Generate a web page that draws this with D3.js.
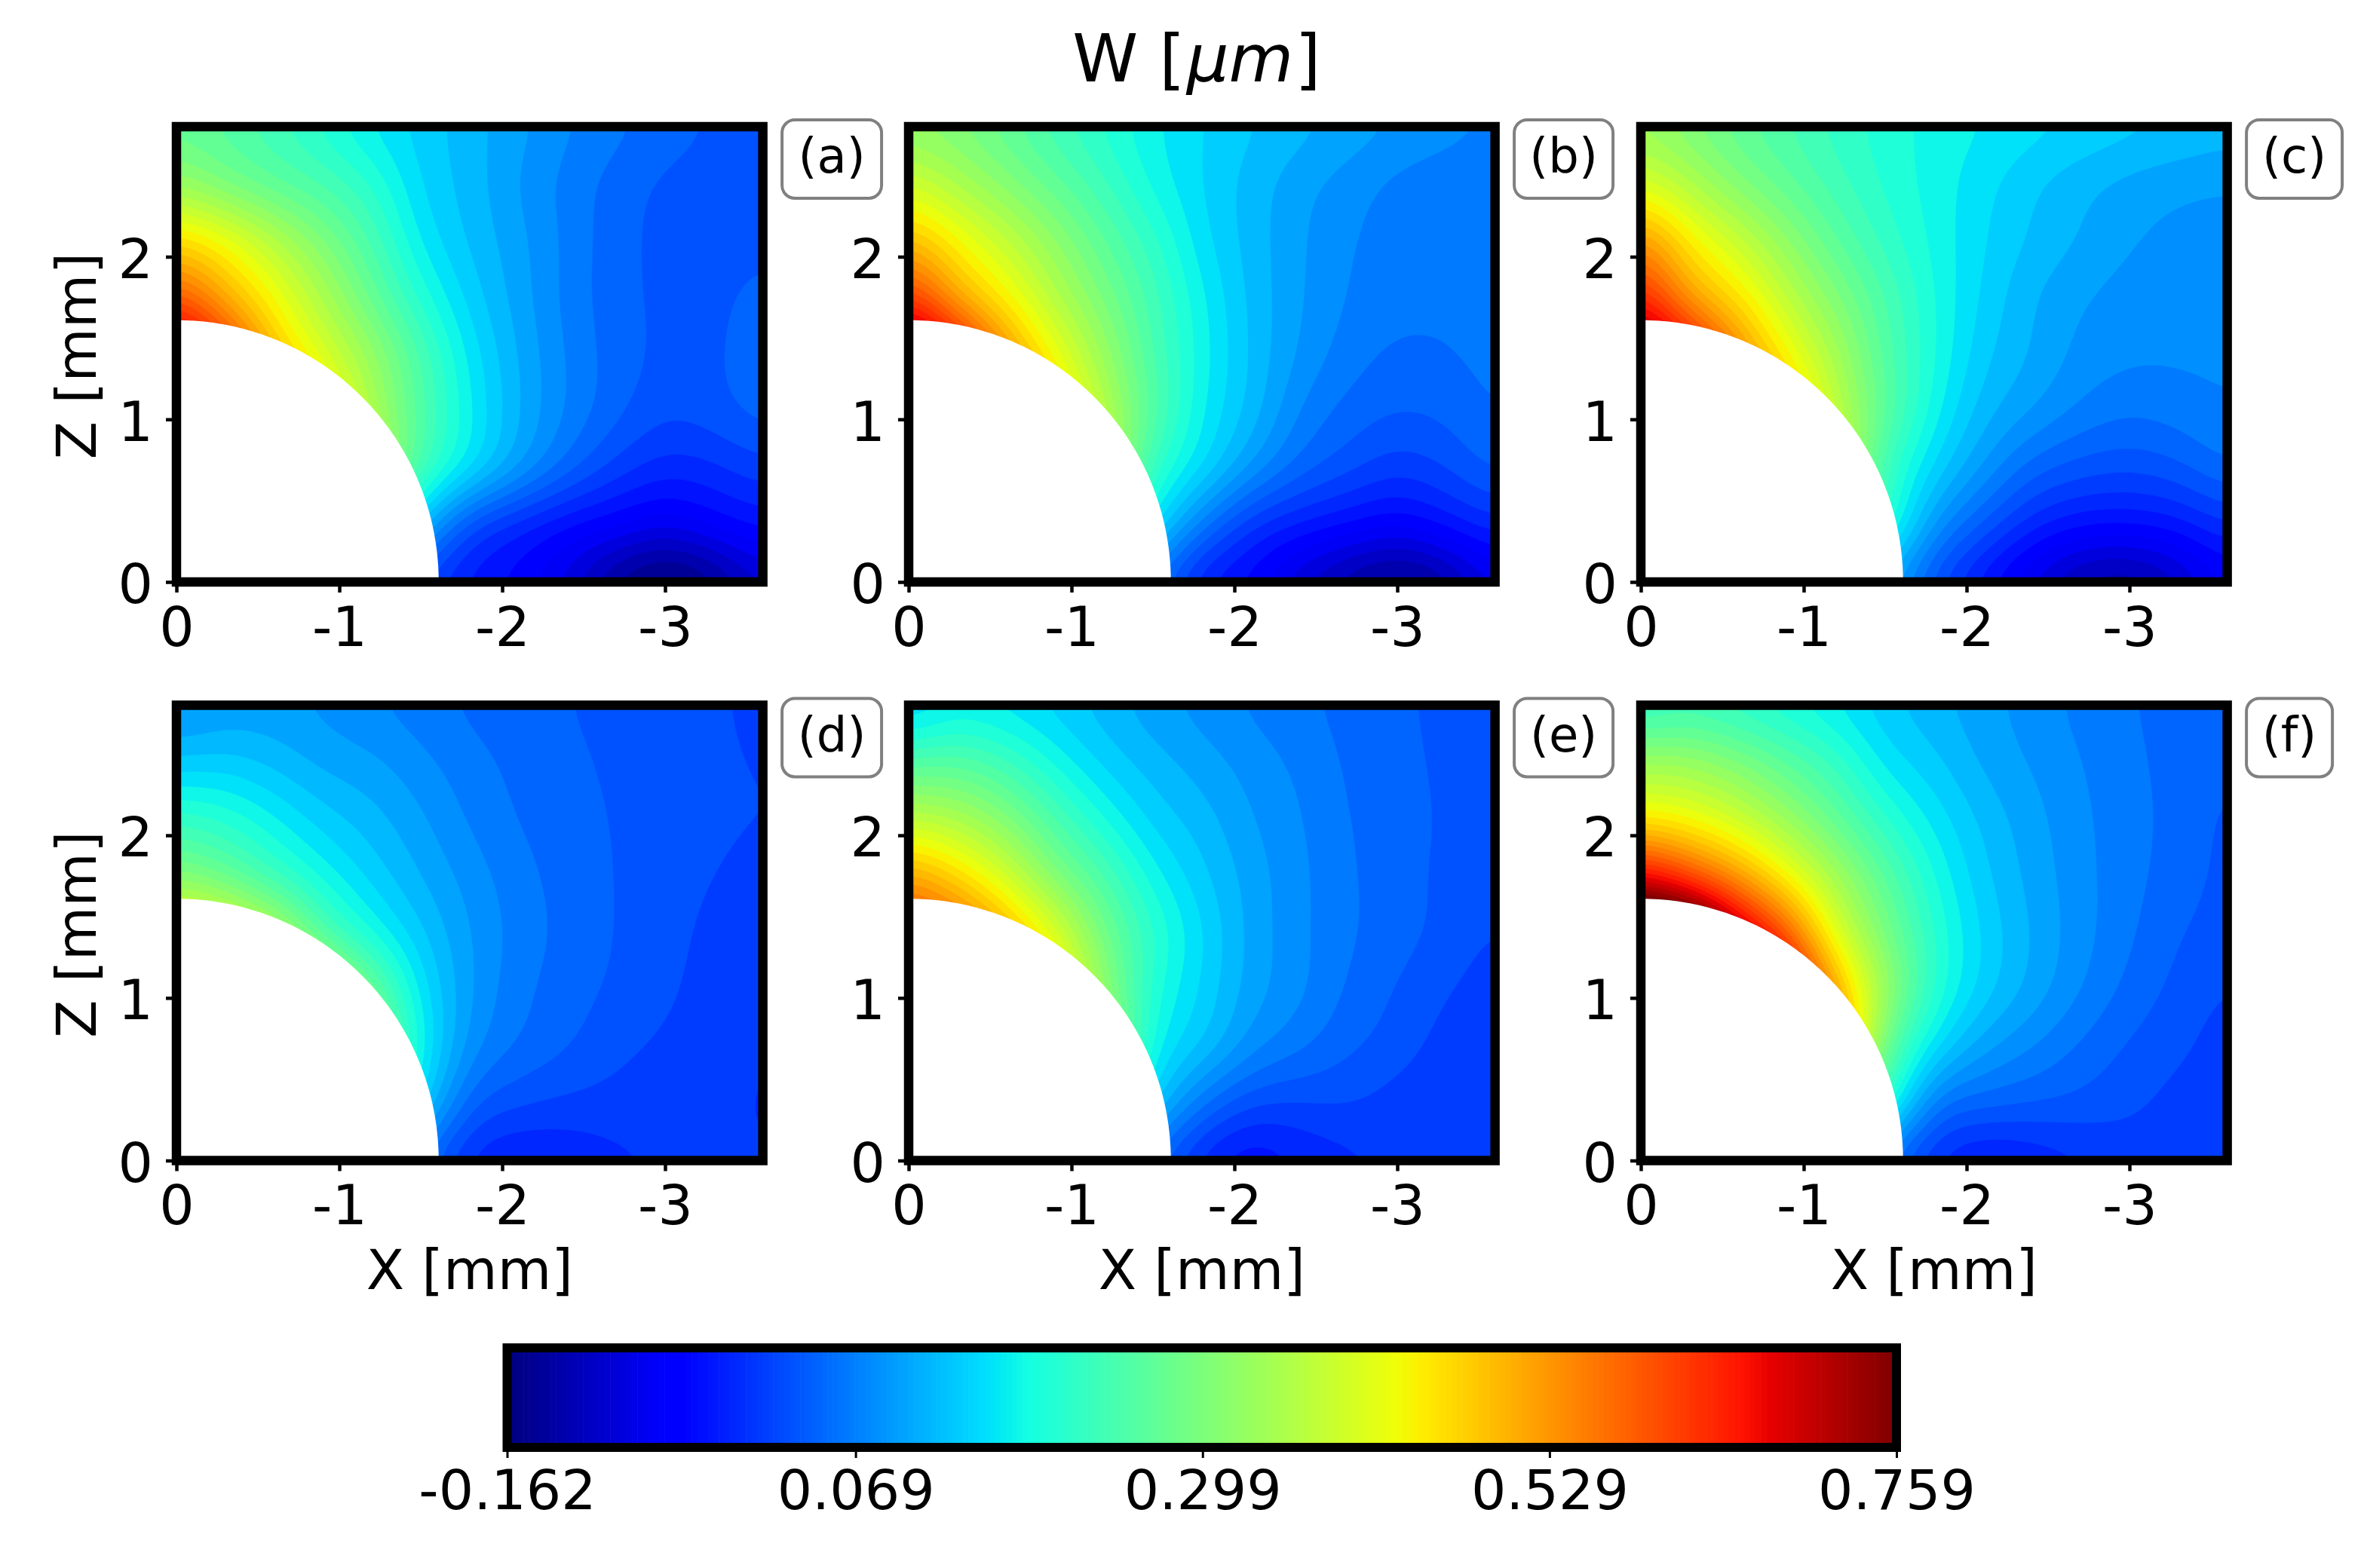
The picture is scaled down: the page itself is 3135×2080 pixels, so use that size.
<!DOCTYPE html>
<html><head><meta charset="utf-8">
<script src="https://cdn.jsdelivr.net/npm/d3@7"></script>
<style>html,body{margin:0;padding:0;background:#fff}svg{display:block}text{font-family:"DejaVu Sans";fill:#000}</style>
</head><body><svg id="c" width="3135" height="2080"></svg>
<script>
// grid: columns X = 0 .. -3.6 mm, rows Z = 2.8 .. 0 mm (W in um)
const xGrid=[0,0.3,0.6,0.9,1.2,1.5,1.8,2.1,2.4,2.7,3.0,3.3,3.6];
const zGrid=[2.8,2.45,2.1,1.75,1.4,1.05,0.7,0.35,0];
const panelA=[
[.27,.255,.23,.2,.166,.144,.122,.102,.08,.0645,.05,.039,.035],
[.33,.295,.265,.24,.205,.15,.125,.095,.071,.051,.037,.033,.033],
[.46,.42,.36,.30,.24,.167,.13,.102,.0725,.048,.035,.033,.035],
[.59,.505,.425,.35,.275,.2,.144,.106,.071,.048,.036,.036,.047],
[.74,.64,.49,.40,.325,.24,.163,.113,.075,.05,.036,.038,.049],
[.8,.75,.6,.47,.35,.25,.172,.115,.075,.046,.026,.033,.049],
[.85,.8,.68,.55,.38,.235,.158,.098,.05,.015,-.006,0,.015],
[.9,.8,.6,.4,.25,.124,.028,-.007,-.032,-.048,-.065,-.045,-.026],
[.5,.4,.3,.2,.1,.018,-.022,-.042,-.08,-.135,-.165,-.14,-.09]];
const panelB=[
[.315,.298,.268,.233,.203,.173,.152,.135,.121,.108,.095,.085,.076],
[.39,.35,.308,.268,.228,.183,.151,.125,.103,.087,.072,.066,.064],
[.49,.43,.375,.318,.263,.213,.158,.125,.099,.079,.07,.064,.062],
[.62,.51,.435,.36,.295,.233,.173,.128,.098,.076,.066,.061,.058],
[.78,.68,.53,.42,.33,.243,.178,.13,.093,.068,.055,.059,.063],
[.85,.76,.62,.48,.36,.253,.171,.126,.076,.052,.041,.045,.06],
[.9,.8,.68,.55,.38,.218,.153,.093,.05,.028,.0105,.023,.045],
[.9,.8,.6,.42,.27,.158,.068,.008,-.017,-.034,-.048,-.027,-.002],
[.5,.4,.3,.2,.12,.058,-.017,-.042,-.09,-.125,-.148,-.125,-.07]];
const panelC=[
[.33,.3,.268,.243,.218,.198,.181,.17,.159,.149,.14,.132,.124],
[.40,.355,.305,.268,.233,.203,.18,.158,.136,.12,.108,.101,.098],
[.53,.44,.38,.318,.263,.218,.183,.153,.13,.113,.098,.09,.086],
[.64,.52,.45,.37,.303,.243,.188,.148,.116,.098,.088,.083,.082],
[.78,.68,.54,.43,.343,.253,.19,.138,.113,.09,.081,.08,.08],
[.85,.76,.62,.5,.37,.263,.178,.123,.096,.073,.062,.068,.076],
[.9,.8,.68,.55,.4,.228,.148,.093,.05,.032,.026,.036,.058],
[.9,.8,.6,.42,.3,.208,.093,.038,-.007,-.029,-.032,-.022,.003],
[.5,.4,.3,.22,.15,.108,.028,-.027,-.075,-.118,-.128,-.098,-.05]];
const panelD=[
[.087,.099,.1,.091,.079,.067,.055,.048,.041,.035,.031,.024,.019],
[.137,.14,.127,.109,.1,.083,.066,.054,.045,.037,.032,.025,.021],
[.217,.202,.172,.142,.122,.099,.075,.058,.0484,.039,.033,.025,.022],
[.307,.277,.227,.182,.145,.114,.088,.066,.051,.04,.03,.022,.018],
[.45,.42,.36,.252,.187,.136,.096,.07,.053,.04,.028,.018,.014],
[.52,.48,.44,.38,.277,.162,.098,.065,.049,.037,.025,.016,.011],
[.52,.47,.44,.4,.32,.177,.087,.057,.042,.027,.019,.014,.005],
[.5,.47,.42,.37,.27,.147,.047,.026,.018,.015,.012,.01,.001],
[.3,.3,.3,.27,.17,.057,-.003,-.018,-.012,-.001,.006,.009,.005]];
const panelE=[
[.14,.168,.158,.143,.123,.103,.088,.074,.063,.053,.044,.036,.031],
[.25,.255,.228,.183,.146,.123,.105,.088,.073,.056,.046,.037,.032],
[.37,.35,.305,.243,.188,.145,.123,.097,.079,.059,.048,.038,.032],
[.51,.46,.39,.305,.243,.178,.138,.106,.082,.062,.047,.037,.03],
[.62,.58,.5,.40,.288,.208,.153,.108,.082,.062,.048,.035,.021],
[.68,.64,.58,.46,.318,.198,.148,.105,.082,.056,.039,.024,.012],
[.7,.66,.6,.5,.35,.178,.133,.085,.063,.044,.032,.014,.006],
[.7,.6,.5,.4,.25,.138,.063,.025,.021,.023,.013,.005,.003],
[.4,.35,.3,.22,.12,.048,-.007,-.032,-.014,-.002,.008,.008,.006]];
const panelF=[
[.21,.223,.208,.188,.166,.138,.12,.103,.087,.072,.06,.053,.048],
[.335,.33,.3,.26,.218,.163,.138,.111,.094,.078,.063,.053,.044],
[.445,.425,.385,.33,.27,.208,.163,.128,.103,.082,.065,.053,.036],
[.67,.6,.52,.43,.34,.26,.188,.138,.108,.084,.065,.05,.035],
[.9,.88,.72,.58,.405,.295,.205,.148,.113,.085,.062,.042,.032],
[1,1,.9,.72,.505,.33,.205,.143,.108,.078,.053,.035,.021],
[1,.95,.85,.7,.55,.28,.158,.103,.078,.056,.038,.026,.014],
[.9,.85,.7,.5,.35,.208,.068,.048,.041,.035,.026,.016,.012],
[.5,.5,.4,.3,.2,.058,0,-.022,-.014,0,.012,.014,.012]];
const panels=[panelA,panelB,panelC,panelD,panelE,panelF];
const panelLabels=["(a)","(b)","(c)","(d)","(e)","(f)"];
const vMin=-0.162, vMax=0.759, levelCount=50, cbarSteps=256;
const xTicks=[0,-1,-2,-3], zTicks=[0,1,2];
const cbarTicks=[-0.162,0.069,0.299,0.529,0.759];

const rChan=d3.scaleLinear().domain([0,.35,.66,.89,1]).range([0,0,1,1,.5]);
const gChan=d3.scaleLinear().domain([0,.125,.375,.64,.91,1]).range([0,0,1,1,0,0]);
const bChan=d3.scaleLinear().domain([0,.11,.34,.65,1]).range([.5,1,1,0,0]);
const jet=t=>d3.rgb(255*rChan(t),255*gChan(t),255*bChan(t)).formatRgb();
const levels=d3.range(levelCount+1).map(i=>vMin+(vMax-vMin)*i/levelCount);
const bandColor=i=>jet(i/(levelCount-1));

function refine(rows,k){ // smooth display resampling of the read grid
  const cr=(a,b,c,d,t)=>0.5*(2*b+(c-a)*t+(2*a-5*b+4*c-d)*t*t+(3*b-a-3*c+d)*t*t*t);
  const h=rows.length,w=rows[0].length,W=(w-1)*k+1,H=(h-1)*k+1,out=new Float64Array(W*H);
  const at=(j,i)=>rows[Math.max(0,Math.min(h-1,j))][Math.max(0,Math.min(w-1,i))];
  for(let y=0;y<H;y++){const j=Math.min(h-2,Math.floor(y/k)),ty=y/k-j;
    for(let x=0;x<W;x++){const i=Math.min(w-2,Math.floor(x/k)),tx=x/k-i;
      const col=[-1,0,1,2].map(d=>cr(at(j+d,i-1),at(j+d,i),at(j+d,i+1),at(j+d,i+2),tx));
      out[y*W+x]=cr(col[0],col[1],col[2],col[3],ty);}}
  d3.blur2({data:out,width:W},3);
  return {values:Array.from(out),W,H};
}

const svg=d3.select("#c");
const FS=73, LFS=73.5, axW=777.6, axH=604, holeR=1.61;
const lefts=[234,1205,2176], tops=[168,935.5];
const boxes=[132,131,127,132,131,114];

panels.forEach((rows,idx)=>{
  const col=idx%3,row=idx<3?0:1,L=lefts[col],T=tops[row];
  const sx=d3.scaleLinear().domain([0,-3.6]).range([L,L+axW]);
  const sy=d3.scaleLinear().domain([2.8,0]).range([T,T+axH]);
  const g=svg.append("g");
  const cid="clip"+idx;
  svg.append("clipPath").attr("id",cid).append("rect").attr("x",L).attr("y",T).attr("width",axW).attr("height",axH);
  const plot=g.append("g").attr("clip-path",`url(#${cid})`);
  plot.append("rect").attr("x",L).attr("y",T).attr("width",axW).attr("height",axH).attr("fill",bandColor(0));
  const k=10,{values,W,H}=refine(rows,k);
  const proj=d3.geoTransform({point(x,y){
    this.stream.point(sx(-(x-.5)/(W-1)*xGrid[xGrid.length-1]), sy(zGrid[0]-(y-.5)/(H-1)*zGrid[0]));}});
  const path=d3.geoPath(proj);
  const cs=d3.contours().size([W,H]).thresholds(levels.slice(1,-1))(values);
  plot.selectAll("path.band").data(cs).join("path").attr("class","band")
    .attr("d",path).attr("fill",(d,i)=>bandColor(i+1)).attr("stroke",(d,i)=>bandColor(i+1)).attr("stroke-width",.4);
  const hole=d3.range(0,91,1).map(a=>[-holeR*Math.cos(a*Math.PI/180),holeR*Math.sin(a*Math.PI/180)]);
  hole.push([0,0]);
  plot.append("path").attr("d",d3.line().x(d=>sx(d[0])).y(d=>sy(d[1]))(hole)+"Z").attr("fill","#fff");
  const ax=d3.axisBottom(sx).tickValues(xTicks).tickFormat(d=>String(d)).tickSize(14).tickPadding(19);
  const ay=d3.axisLeft(sy).tickValues(zTicks).tickFormat(d=>String(d)).tickSize(14).tickPadding(17);
  const gx=g.append("g").attr("transform",`translate(0,${T+axH})`).call(ax);
  const gy=g.append("g").attr("transform",`translate(${L},0)`).call(ay);
  [gx,gy].forEach(a=>{a.select(".domain").remove();
    a.selectAll("line").attr("stroke","#000").attr("stroke-width",4.5);
    a.selectAll("text").attr("font-size",FS).attr("font-family","DejaVu Sans").attr("fill","#000");});
  gy.selectAll("text").attr("dy",".38em");
  g.append("rect").attr("x",L).attr("y",T).attr("width",axW).attr("height",axH).attr("fill","none").attr("stroke","#000").attr("stroke-width",12.5);
  const bw=boxes[idx],bx=L+axW+25.5,by=T-9;
  g.append("rect").attr("x",bx).attr("y",by).attr("width",bw).attr("height",104).attr("rx",17).attr("fill","#fff").attr("stroke","#808080").attr("stroke-width",4);
  g.append("text").attr("x",bx+bw/2).attr("y",T+61).attr("text-anchor","middle").attr("font-size",64).text(panelLabels[idx]);
  if(col===0) g.append("text").attr("transform",`translate(127,${T+304}) rotate(-90)`).attr("text-anchor","middle").attr("font-size",LFS).text("Z [mm]");
  if(row===1) g.append("text").attr("x",L+axW/2).attr("y",1710).attr("text-anchor","middle").attr("font-size",LFS).text("X [mm]");
});

// colour bar
const cx=d3.scaleLinear().domain([vMin,vMax]).range([672.5,2515]);
const cT=1788,cH=132;
const cb=svg.append("g");
const stepW=(vMax-vMin)/cbarSteps;
cb.selectAll("rect.b").data(d3.range(cbarSteps)).join("rect").attr("class","b")
  .attr("x",i=>cx(vMin+i*stepW)).attr("y",cT).attr("width",cx(vMin+stepW)-cx(vMin)+.6).attr("height",cH).attr("fill",i=>jet(i/(cbarSteps-1)));
const cax=d3.axisBottom(cx).tickValues(cbarTicks).tickFormat(d=>d3.format(".3f")(d).replace("\u2212","-")).tickSize(14).tickPadding(16);
const gc=cb.append("g").attr("transform",`translate(0,${cT+cH})`).call(cax);
gc.select(".domain").remove();
gc.selectAll("line").attr("stroke","#000").attr("stroke-width",3);
gc.selectAll("text").attr("font-size",FS).attr("font-family","DejaVu Sans").attr("fill","#000");
cb.append("rect").attr("x",cx.range()[0]).attr("y",cT).attr("width",cx.range()[1]-cx.range()[0]).attr("height",cH).attr("fill","none").attr("stroke","#000").attr("stroke-width",12);

// title
const t=svg.append("text").attr("x",1587).attr("y",108).attr("text-anchor","middle").attr("font-size",88);
t.append("tspan").text("W [");
t.append("tspan").attr("font-style","italic").attr("dx",2).text("\u03bcm");
t.append("tspan").attr("dx",2).text("]");
</script></body></html>
